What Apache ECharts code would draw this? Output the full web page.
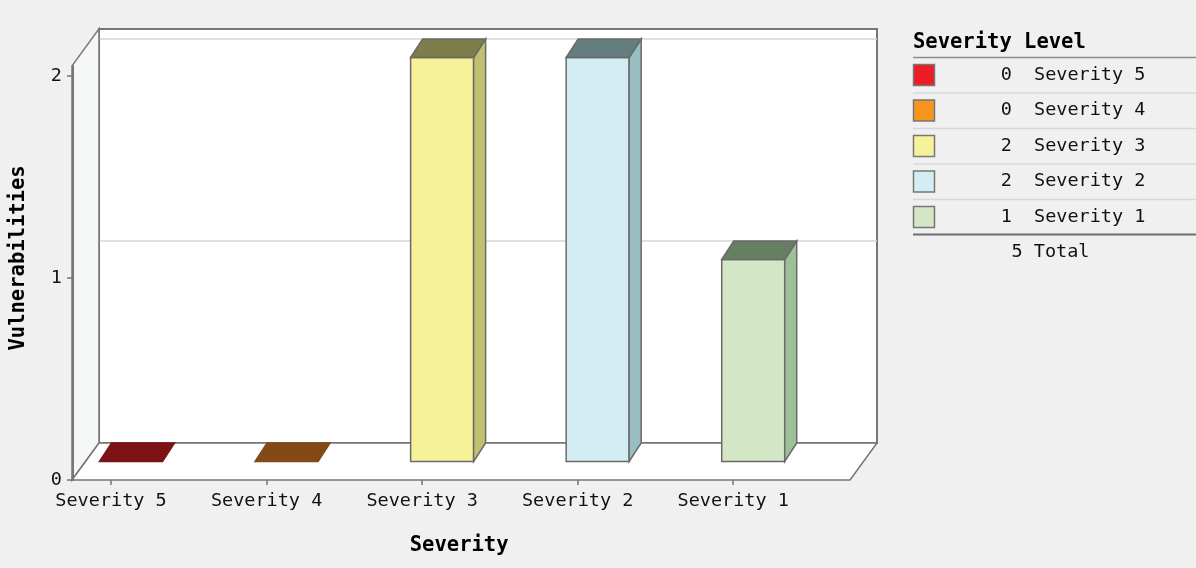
<!DOCTYPE html>
<html>
<head>
<meta charset="utf-8">
<title>Severity</title>
<script src="https://cdn.jsdelivr.net/npm/echarts@6/dist/echarts.min.js"></script>
<style>
    html, body { margin: 0; padding: 0; background: #eff0ef; }
    #chart { width: 1196px; height: 568px; }
</style>
</head>
<body>
<div id="chart"></div>
<script>
    // 数据
    var categories = ['Severity 5', 'Severity 4', 'Severity 3', 'Severity 2', 'Severity 1'];
    var counts = [0, 0, 2, 2, 1];
    var yTicks = [0, 1, 2];
    var legendTitle = 'Severity Level';

    // 颜色
    var faceColors = ['#ed1c24', '#f7941d', '#f7f29a', '#d4ecf3', '#d3e6c6'];
    var topColors = ['#7c1317', '#844a16', '#7f7d4b', '#647e80', '#667f62'];
    var sideColors = ['#9a1a1e', '#a65e1a', '#c2c070', '#99bec2', '#9cc199'];

    var font = 'DejaVu Sans Mono';
    var frameColor = '#767676';
    var yMax = 2.05;

    // 3D frame: front plane and back plane
    var fx0 = 72, fx1 = 850, fy0 = 480, fyTop = 65.9;
    var bx0 = 99, bx1 = 877, by0 = 443, byTop = 28.9;

    function drawBar(params, api) {
        var i = api.value(0), v = api.value(1);
        var base = api.coord([i, 0]);
        var top = api.coord([i, v]);
        var l = base[0] - 11.5, r = l + 63;
        var yb = base[1] - 18.5, yt = top[1] - 18.5;
        var dx = 12, dy = 18.5;
        var edge = v > 0 ? '#6a6a6a' : topColors[i];
        var children = [];
        if (v > 0) {
            children.push({
                type: 'rect',
                shape: {x: l, y: yt, width: r - l, height: yb - yt},
                style: {fill: faceColors[i], stroke: edge, lineWidth: 1.5}
            });
            children.push({
                type: 'polygon',
                shape: {points: [[r, yt], [r + dx, yt - dy], [r + dx, yb - dy], [r, yb]]},
                style: {fill: sideColors[i], stroke: edge, lineWidth: 1.5}
            });
        }
        children.push({
            type: 'polygon',
            shape: {points: [[l, yt], [l + dx, yt - dy], [r + dx, yt - dy], [r, yt]]},
            style: {fill: topColors[i], stroke: edge, lineWidth: 1.5}
        });
        return {type: 'group', children: children};
    }

    // 图例表格
    function legendTable() {
        var els = [];
        var lx = 913, rowH = 35.5, firstY = 75;
        els.push({type: 'text', x: lx, y: 42.5, style: {text: legendTitle, font: 'bold 20.5px "' + font + '"', fill: '#000', verticalAlign: 'middle'}});
        els.push({type: 'line', shape: {x1: lx, y1: 57.5, x2: 1196, y2: 57.5}, style: {stroke: '#8a8a8a', lineWidth: 1.5}});
        var total = 0;
        categories.forEach(function (c, i) {
            var cy = firstY + rowH * i;
            total += counts[i];
            els.push({type: 'rect', shape: {x: lx + 0.5, y: cy - 10.5, width: 21, height: 21}, style: {fill: faceColors[i], stroke: '#777', lineWidth: 1.5}});
            els.push({type: 'text', x: 1012, y: cy, style: {text: String(counts[i]), font: '18.5px "' + font + '"', fill: '#111', align: 'right', verticalAlign: 'middle'}});
            els.push({type: 'text', x: 1034, y: cy, style: {text: c, font: '18.5px "' + font + '"', fill: '#111', verticalAlign: 'middle'}});
            if (i < categories.length - 1) {
                els.push({type: 'line', shape: {x1: lx, y1: cy + 18, x2: 1196, y2: cy + 18}, style: {stroke: '#d8d8d8', lineWidth: 1.5}});
            }
        });
        els.push({type: 'line', shape: {x1: lx, y1: 234.5, x2: 1196, y2: 234.5}, style: {stroke: '#6e6e6e', lineWidth: 2}});
        els.push({type: 'text', x: 1011.5, y: 252, style: {text: total + ' Total', font: '18.5px "' + font + '"', fill: '#111', verticalAlign: 'middle'}});
        return els;
    }

    var myChart = echarts.init(document.getElementById('chart'));
    myChart.setOption({
        backgroundColor: '#eff0ef',
        animation: false,
        textStyle: {fontFamily: font},
        grid: [
            {left: 32.25, top: fyTop, width: 778.75, height: fy0 - fyTop},
            {left: bx0, top: byTop, width: bx1 - bx0, height: by0 - byTop, show: true,
                backgroundColor: '#fff', borderColor: frameColor, borderWidth: 2}
        ],
        xAxis: [
            {
                type: 'category', gridIndex: 0, data: categories, z: 4,
                axisLine: {show: true, lineStyle: {color: 'rgba(0,0,0,0)', width: 0}},
                axisTick: {show: true, alignWithLabel: true, length: 5, lineStyle: {color: frameColor, width: 1.5}},
                axisLabel: {color: '#111', fontSize: 18.5, fontFamily: font, margin: 12},
                name: 'Severity', nameLocation: 'middle', nameGap: 55,
                nameTextStyle: {fontWeight: 'bold', fontSize: 20.5, color: '#000', fontFamily: font, padding: [0, 0, 0, 74]}
            },
            {type: 'category', gridIndex: 1, data: categories, show: false}
        ],
        yAxis: [
            {
                type: 'value', gridIndex: 0, min: 0, max: yMax, interval: 1, offset: -39.75, z: 4,
                axisLine: {show: true, lineStyle: {color: frameColor, width: 2}},
                axisTick: {show: true, length: 6, customValues: yTicks, lineStyle: {color: frameColor, width: 1.5}},
                axisLabel: {color: '#111', fontSize: 18.5, fontFamily: font, margin: 11, customValues: yTicks},
                splitLine: {show: false},
                name: 'Vulnerabilities', nameLocation: 'middle', nameGap: 44,
                nameTextStyle: {fontWeight: 'bold', fontSize: 20.5, color: '#000', fontFamily: font, padding: [0, 0, 0, 30]}
            },
            {
                type: 'value', gridIndex: 1, min: 0, max: yMax, interval: 1,
                axisLine: {show: false}, axisTick: {show: false}, axisLabel: {show: false},
                splitLine: {show: true, showMinLine: false, showMaxLine: false, lineStyle: {color: '#d6d6d6', width: 1.5}}
            }
        ],
        graphic: [
            {
                type: 'polygon', z: 1,
                shape: {points: [[fx0, fyTop], [bx0, byTop], [bx0, by0], [fx0, fy0]]},
                style: {fill: '#f5f7f6', stroke: frameColor, lineWidth: 1.5}
            },
            {
                type: 'polygon', z: 1,
                shape: {points: [[fx0, fy0], [bx0, by0], [bx1, by0], [fx1, fy0]]},
                style: {fill: '#fff', stroke: frameColor, lineWidth: 1.5}
            },
            {type: 'group', children: legendTable()}
        ],
        series: [{
            type: 'custom',
            xAxisIndex: 0, yAxisIndex: 0,
            z: 5,
            renderItem: drawBar,
            encode: {x: 0, y: 1},
            data: counts.map(function (v, i) { return [i, v]; })
        }]
    });
</script>
</body>
</html>
